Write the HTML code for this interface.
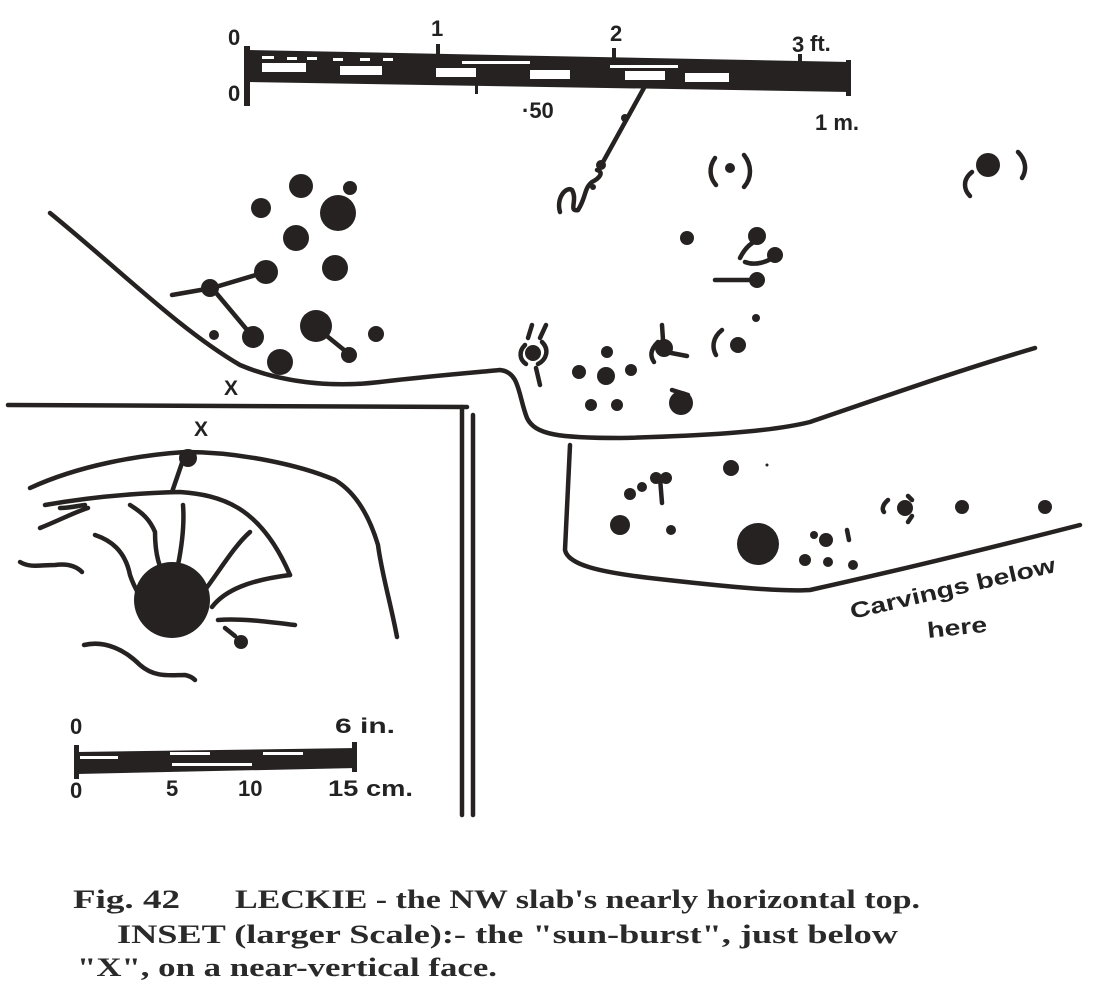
<!DOCTYPE html>
<html><head><meta charset="utf-8"><style>
html,body{margin:0;padding:0;background:#fff;}
svg{display:block}
text{font-family:"Liberation Sans",sans-serif;fill:#222;font-weight:bold}
.cap{font-family:"Liberation Serif",serif;font-weight:bold;font-size:26px;fill:#2a2a2a}
</style></head><body>
<svg width="1111" height="997" viewBox="0 0 1111 997" xmlns="http://www.w3.org/2000/svg">
<rect width="1111" height="997" fill="#fff"/>
<g fill="#262222" stroke="none">
<polygon points="247,50 850,62 850,92 247,82"/>
<rect x="244" y="46" width="6" height="60"/>
<rect x="846" y="60" width="5" height="36"/>
</g>
<g fill="#fff">
<rect x="262" y="63" width="44" height="9"/><rect x="340" y="66" width="42" height="9"/>
<rect x="436" y="68" width="40" height="9"/><rect x="530" y="70" width="40" height="9"/>
<rect x="625" y="71" width="40" height="9"/><rect x="685" y="73" width="44" height="9"/>
<rect x="262" y="56" width="12" height="3"/><rect x="287" y="57" width="10" height="3"/>
<rect x="307" y="57" width="10" height="3"/><rect x="333" y="58" width="10" height="3"/>
<rect x="360" y="58" width="10" height="3"/><rect x="383" y="58" width="10" height="3"/>
<rect x="462" y="61" width="68" height="3"/><rect x="610" y="65" width="68" height="3"/>
</g>
<g fill="#262222">
<rect x="436" y="44" width="4" height="10"/><rect x="612" y="48" width="4" height="10"/>
<rect x="798" y="54" width="4" height="10"/><rect x="475" y="80" width="3" height="14"/>
</g>
<text x="228" y="45" font-size="22">0</text>
<text x="431" y="36" font-size="22">1</text>
<text x="610" y="41" font-size="22">2</text>
<text x="792" y="52" font-size="22">3</text>
<text x="810" y="51" font-size="22">ft.</text>
<text x="228" y="101" font-size="22">0</text>
<text x="522" y="118" font-size="22">·50</text>
<text x="815" y="130" font-size="22">1 m.</text>

<g stroke="#262222" stroke-width="4.5" fill="none" stroke-linecap="round">
<path d="M645,86 L603,162"/>
<path d="M560,212 C556,198 566,186 572,190 C578,200 568,212 578,210 C586,198 584,188 592,182 C600,178 604,172 597,170"/>
<path d="M50,213 C120,270 180,330 240,365 C280,382 330,388 380,382 C430,376 480,372 500,370 C520,372 518,395 527,418 C535,435 560,438 620,438 C700,436 770,432 810,422 C880,398 960,370 1035,348"/>
<path d="M8,405 L467,407"/>
<path d="M462,407 L462,815"/>
<path d="M473,415 L473,815"/>
<path d="M570,445 L565,550 C568,565 600,572 650,578 C720,586 780,592 810,590 C900,570 990,548 1080,525"/>
<path d="M172,295 L212,288 L266,272"/>
<path d="M212,288 L253,337"/>
<path d="M317,328 L349,354"/>
<path d="M715,158 C708,168 710,178 716,185"/>
<path d="M744,155 C752,165 752,178 744,187"/>
<path d="M972,172 C962,180 964,190 970,196"/>
<path d="M1018,152 C1026,160 1027,170 1022,178"/>
<path d="M740,258 C745,248 750,244 757,240"/>
<path d="M745,262 C755,266 768,262 775,256"/>
<path d="M715,280 L757,280"/>
<path d="M722,330 C712,338 712,348 716,355"/>
<path d="M525,345 C518,352 520,360 526,364"/>
<path d="M542,342 C550,350 546,360 538,364"/>
<path d="M528,338 L532,325"/><path d="M540,338 L546,325"/>
<path d="M536,368 L540,385"/>
<path d="M658,342 C650,350 650,356 654,362"/>
<path d="M663,340 L662,325"/><path d="M666,352 L687,356"/>
<path d="M672,390 L688,395"/>
<path d="M660,478 L662,503"/>
<path d="M888,500 C882,505 882,510 884,512"/><path d="M908,496 L912,500"/><path d="M912,516 L908,522"/>
<path d="M847,530 L849,540"/>
<path d="M30,488 C80,465 140,455 185,452 C240,452 300,465 335,480 C360,495 372,525 378,545 C382,575 390,600 397,637"/>
<path d="M183,460 L172,492"/>
<path d="M45,505 C90,497 140,493 180,492 C220,495 260,505 290,575"/>
<path d="M60,508 C70,508 82,505 85,505"/>
<path d="M40,528 C60,520 75,512 88,508"/>
<path d="M20,562 C30,568 40,565 55,565 C70,563 78,568 82,572"/>
<path d="M130,505 C143,513 150,520 155,532 C155,555 160,570 165,575"/>
<path d="M183,505 C185,530 180,555 178,565"/>
<path d="M95,535 C110,540 125,550 130,575 C135,590 140,595 142,600"/>
<path d="M205,590 C220,570 235,545 250,532"/>
<path d="M212,607 C225,590 250,580 290,575"/>
<path d="M218,620 C240,618 270,622 295,625"/>
<path d="M84,645 C105,640 125,650 140,665 C155,678 170,675 185,675 C190,676 193,678 195,680"/>
<path d="M225,628 L235,636"/>
</g>
<g fill="#262222">
<circle cx="601" cy="165" r="5"/><circle cx="625" cy="118" r="4"/><circle cx="593" cy="187" r="3"/>
<circle cx="301" cy="186" r="12"/><circle cx="350" cy="188" r="7"/><circle cx="261" cy="208" r="10"/>
<circle cx="338" cy="213" r="18"/><circle cx="296" cy="238" r="13"/><circle cx="335" cy="268" r="13"/>
<circle cx="266" cy="272" r="12"/><circle cx="210" cy="288" r="9"/><circle cx="253" cy="337" r="11"/>
<circle cx="214" cy="335" r="5"/><circle cx="280" cy="362" r="13"/><circle cx="316" cy="326" r="16"/>
<circle cx="349" cy="355" r="8"/><circle cx="376" cy="334" r="8"/>
<circle cx="730" cy="168" r="5"/><circle cx="988" cy="165" r="12"/><circle cx="687" cy="238" r="7"/>
<circle cx="757" cy="236" r="9"/><circle cx="775" cy="255" r="8"/><circle cx="757" cy="280" r="8"/>
<circle cx="756" cy="318" r="4"/><circle cx="738" cy="345" r="8"/><circle cx="533" cy="353" r="8"/>
<circle cx="607" cy="352" r="6"/><circle cx="579" cy="372" r="7"/><circle cx="606" cy="376" r="9"/>
<circle cx="631" cy="370" r="6"/><circle cx="591" cy="405" r="6"/><circle cx="617" cy="405" r="6"/>
<circle cx="681" cy="403" r="12"/><circle cx="664" cy="348" r="9"/>
<circle cx="731" cy="468" r="8"/><circle cx="630" cy="494" r="6"/><circle cx="642" cy="487" r="5"/>
<circle cx="656" cy="478" r="6"/><circle cx="666" cy="478" r="6"/>
<circle cx="620" cy="525" r="10"/><circle cx="671" cy="530" r="5"/><circle cx="758" cy="544" r="21"/>
<circle cx="826" cy="540" r="7"/><circle cx="814" cy="535" r="4"/><circle cx="805" cy="560" r="6"/><circle cx="828" cy="562" r="5"/>
<circle cx="853" cy="565" r="5"/><circle cx="905" cy="508" r="8"/><circle cx="962" cy="507" r="7"/>
<circle cx="1045" cy="507" r="7"/><circle cx="767" cy="465" r="1.5"/>
<circle cx="188" cy="458" r="9"/><circle cx="172" cy="600" r="38"/><circle cx="241" cy="642" r="7"/>
<polygon points="77,752 357,748 357,768 77,774"/>
<rect x="74" y="745" width="5" height="34"/><rect x="352" y="742" width="5" height="30"/>
</g>
<g fill="#fff">
<rect x="80" y="756" width="38" height="3"/><rect x="170" y="752" width="40" height="3"/>
<rect x="263" y="752" width="40" height="3"/><rect x="172" y="763" width="80" height="3"/>
</g>
<text x="224" y="395" font-size="21">X</text>
<text x="194" y="436" font-size="21">X</text>
<text x="70" y="734" font-size="22">0</text>
<text x="335" y="733" font-size="21" textLength="60" lengthAdjust="spacingAndGlyphs">6 in.</text>
<text x="70" y="798" font-size="22">0</text>
<text x="166" y="796" font-size="22">5</text>
<text x="238" y="796" font-size="22">10</text>
<text x="328" y="796" font-size="22" textLength="85" lengthAdjust="spacingAndGlyphs">15 cm.</text>
<text x="852" y="619" font-size="22" textLength="210" lengthAdjust="spacingAndGlyphs" transform="rotate(-13 852 619)">Carvings below</text>
<text x="928" y="638" font-size="22" textLength="60" lengthAdjust="spacingAndGlyphs" transform="rotate(-6 928 638)">here</text>
<text class="cap" x="73" y="908" textLength="107" lengthAdjust="spacingAndGlyphs">Fig. 42</text>
<text class="cap" x="235" y="908" textLength="685" lengthAdjust="spacingAndGlyphs">LECKIE - the NW slab's nearly horizontal top.</text>
<text class="cap" x="117" y="943" textLength="781" lengthAdjust="spacingAndGlyphs">INSET (larger Scale):-  the "sun-burst", just below</text>
<text class="cap" x="77" y="976" textLength="420" lengthAdjust="spacingAndGlyphs">"X", on a near-vertical face.</text>
</svg>
</body></html>
